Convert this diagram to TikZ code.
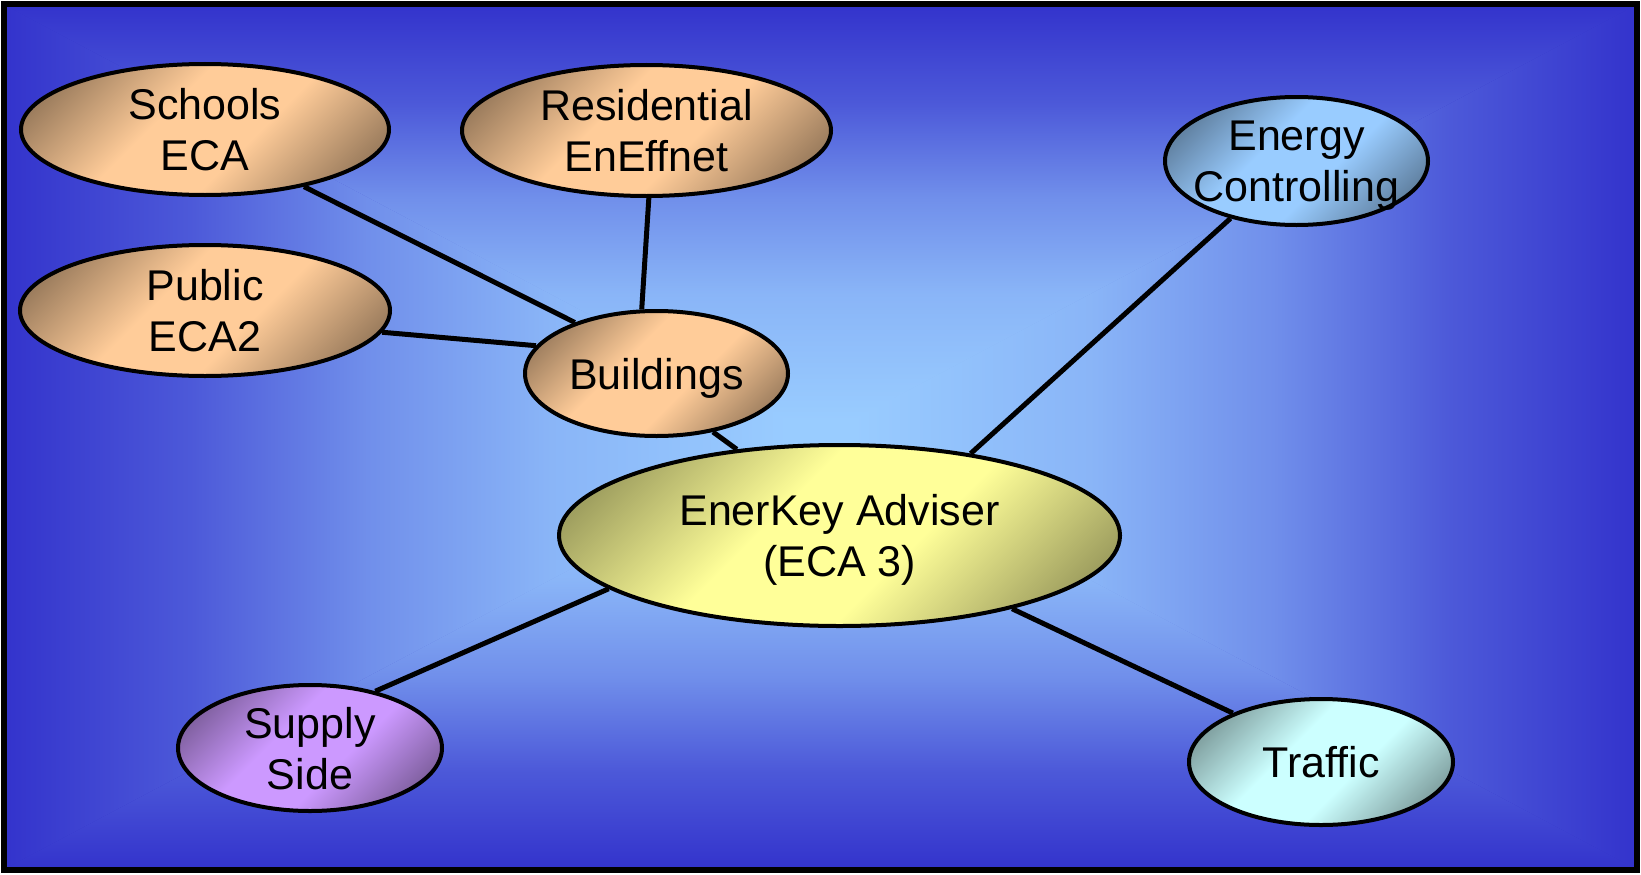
\documentclass[tikz,border=0pt]{standalone}
\usepackage{fontspec}
\setmainfont{Liberation Sans}
\usetikzlibrary{shapes.geometric}
\definecolor{bgL}{HTML}{99CCFF}
\definecolor{bgD}{HTML}{3333CC}
\colorlet{bgA}{bgL!85!bgD}
\colorlet{bgB}{bgL!60!bgD}
\colorlet{bgC}{bgL!25!bgD}
\definecolor{peachL}{HTML}{FFCC99}
\colorlet{peachD}{peachL!60!black}
\definecolor{yelL}{HTML}{FFFF99}
\colorlet{yelD}{yelL!62!black}
\definecolor{bluL}{HTML}{99CCFF}
\colorlet{bluD}{bluL!60!black}
\definecolor{cyaL}{HTML}{CCFFFF}
\colorlet{cyaD}{cyaL!60!black}
\definecolor{purL}{HTML}{CC99FF}
\colorlet{purD}{purL!60!black}
\pgfdeclareradialshading{bgsh}{\pgfpointorigin}{color(0bp)=(bgL); color(2bp)=(bgL); color(8.25bp)=(bgA); color(13.9bp)=(bgB); color(19.25bp)=(bgC); color(25bp)=(bgD); color(50bp)=(bgD)}
\pgfdeclareverticalshading{bgv}{100bp}{color(0bp)=(bgL); color(27bp)=(bgL); color(41.5bp)=(bgA); color(52.75bp)=(bgB); color(63.5bp)=(bgC); color(75bp)=(bgD); color(100bp)=(bgD)}
\pgfdeclareverticalshading{peachsh}{100bp}{color(0bp)=(peachD); color(22bp)=(peachD); color(42bp)=(peachL); color(58bp)=(peachL); color(78bp)=(peachD); color(100bp)=(peachD)}
\pgfdeclareverticalshading{yelsh}{100bp}{color(0bp)=(yelD); color(22bp)=(yelD); color(42bp)=(yelL); color(58bp)=(yelL); color(78bp)=(yelD); color(100bp)=(yelD)}
\pgfdeclareverticalshading{blush}{100bp}{color(0bp)=(bluD); color(22bp)=(bluD); color(42bp)=(bluL); color(58bp)=(bluL); color(78bp)=(bluD); color(100bp)=(bluD)}
\pgfdeclareverticalshading{cyash}{100bp}{color(0bp)=(cyaD); color(22bp)=(cyaD); color(42bp)=(cyaL); color(58bp)=(cyaL); color(78bp)=(cyaD); color(100bp)=(cyaD)}
\pgfdeclareverticalshading{pursh}{100bp}{color(0bp)=(purD); color(22bp)=(purD); color(42bp)=(purL); color(58bp)=(purL); color(78bp)=(purD); color(100bp)=(purD)}
\tikzset{
  bubble/.style={ellipse, draw=black, line width=4pt, inner sep=0pt, shading angle=45},
  label text/.style={align=center, font=\fontsize{43}{51}\selectfont, text depth=0pt, inner sep=0pt},
  link/.style={draw=black, line width=5pt}
}
\begin{document}
\begin{tikzpicture}[x=1pt,y=-1pt]
\useasboundingbox (0,0) rectangle (1641,875);
\coordinate (tl) at (3.5,4.5);
\coordinate (tr) at (1637,4.5);
\coordinate (br) at (1637,869.5);
\coordinate (bl) at (3.5,869.5);
\coordinate (gc) at (820.25,437);
\shade[shading=bgsh] (tl) rectangle (br);
\shade[shading=bgv] (gc) -- (tl) -- (tr) -- cycle;
\shade[shading=bgv, shading angle=180] (gc) -- (bl) -- (br) -- cycle;
\shade[shading=bgv, shading angle=90] (gc) -- (tl) -- (bl) -- cycle;
\shade[shading=bgv, shading angle=-90] (gc) -- (tr) -- (br) -- cycle;
\draw[line width=6pt] (tl) rectangle (br);

\node[bubble, shading=peachsh, minimum width=368pt, minimum height=131pt] (sch) at (205,129.5) {};
\node[bubble, shading=peachsh, minimum width=369pt, minimum height=131pt] (res) at (646.5,130.5) {};
\node[bubble, shading=peachsh, minimum width=370pt, minimum height=131pt] (pub) at (205,310.5) {};
\node[bubble, shading=peachsh, minimum width=263pt, minimum height=125pt] (bld) at (656.5,373.5) {};
\node[bubble, shading=yelsh, minimum width=561pt, minimum height=181pt] (ek) at (839.5,535.5) {};
\node[bubble, shading=blush, minimum width=263pt, minimum height=128pt] (ec) at (1296.5,161) {};
\node[bubble, shading=cyash, minimum width=264pt, minimum height=126pt] (tr) at (1321,762) {};
\node[bubble, shading=pursh, minimum width=264pt, minimum height=126pt] (sup) at (310,748) {};

\node[label text] (scht) at (sch) {Schools\\ECA};
\node[label text] (rest) at (res) {Residential\\EnEffnet};
\node[label text] (pubt) at (pub) {Public\\ECA2};
\node[label text] (bldt) at (bld) {Buildings};
\node[label text] (ekt) at (ek) {EnerKey Adviser\\(ECA 3)};
\node[label text] (ect) at (ec) {Energy\\Controlling};
\node[label text] (trt) at (tr) {Traffic};
\node[label text] (supt) at (sup) {Supply\\Side};

\draw[link] (sch.-30) -- (bld.148);
\draw[link] (pub.-7) -- (bld.167);
\draw[link] (res.-88) -- (bld.103);
\draw[link] (bld.-46) -- (ek.140);
\draw[link] (ek.32) -- (ec.-139);
\draw[link] (ek.-167) -- (sup.41);
\draw[link] (ek.-23) -- (tr.151);
\end{tikzpicture}
\end{document}
